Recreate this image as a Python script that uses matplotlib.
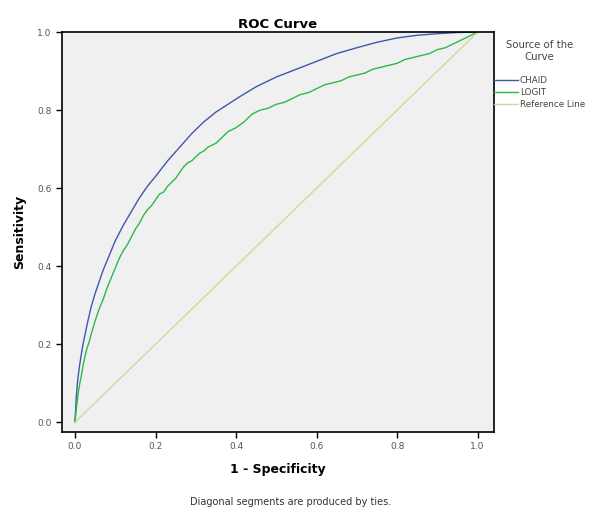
import matplotlib.pyplot as plt
import numpy as np

# ROC points (1 - specificity, sensitivity)
chaid_fpr = [0.0, 0.003, 0.006, 0.01, 0.015, 0.02, 0.03, 0.04, 0.05, 0.06, 0.07, 0.08, 0.10, 0.12,
             0.14, 0.16, 0.18, 0.20, 0.23, 0.26, 0.29, 0.32, 0.35, 0.38, 0.41, 0.45, 0.50, 0.55,
             0.60, 0.65, 0.70, 0.75, 0.80, 0.85, 0.90, 0.95, 1.0]
chaid_tpr = [0.0, 0.06, 0.10, 0.135, 0.17, 0.20, 0.25, 0.295, 0.33, 0.36, 0.39, 0.415, 0.465, 0.505,
             0.54, 0.575, 0.605, 0.63, 0.67, 0.705, 0.74, 0.77, 0.795, 0.815, 0.835, 0.86, 0.885, 0.905,
             0.925, 0.945, 0.96, 0.974, 0.985, 0.992, 0.996, 0.999, 1.0]

logit_fpr = [0.0, 0.004, 0.008, 0.012, 0.016, 0.02, 0.025, 0.03, 0.035, 0.04, 0.05, 0.06, 0.07, 0.08,
             0.09, 0.10, 0.11, 0.12, 0.13, 0.14, 0.15, 0.16, 0.17, 0.18, 0.19, 0.20, 0.21, 0.22,
             0.23, 0.24, 0.25, 0.26, 0.27, 0.28, 0.29, 0.30, 0.31, 0.32, 0.33, 0.34, 0.35, 0.36,
             0.37, 0.38, 0.39, 0.40, 0.42, 0.44, 0.46, 0.48, 0.50, 0.52, 0.54, 0.56, 0.58, 0.60,
             0.62, 0.64, 0.66, 0.68, 0.70, 0.72, 0.74, 0.76, 0.78, 0.80, 0.82, 0.84, 0.86, 0.88,
             0.90, 0.92, 0.94, 0.96, 0.98, 1.0]
logit_tpr = [0.0, 0.04, 0.075, 0.10, 0.12, 0.145, 0.17, 0.19, 0.205, 0.225, 0.26, 0.29, 0.315, 0.345,
             0.37, 0.395, 0.42, 0.44, 0.455, 0.475, 0.495, 0.51, 0.53, 0.545, 0.555, 0.57, 0.585, 0.59,
             0.605, 0.615, 0.625, 0.64, 0.655, 0.665, 0.67, 0.68, 0.69, 0.695, 0.705, 0.71, 0.715, 0.725,
             0.735, 0.745, 0.75, 0.755, 0.77, 0.79, 0.80, 0.805, 0.815, 0.82, 0.83, 0.84, 0.845, 0.855,
             0.865, 0.87, 0.875, 0.885, 0.89, 0.895, 0.905, 0.91, 0.915, 0.92, 0.93, 0.935, 0.94, 0.945,
             0.955, 0.96, 0.97, 0.98, 0.99, 1.0]

series_names = ["CHAID", "LOGIT", "Reference Line"]

fig = plt.figure(figsize=(5.97, 5.18), dpi=100)
ax = fig.add_axes([0.104, 0.166, 0.723, 0.772])
ax.set_facecolor('#f0f0f0')

ax.plot(chaid_fpr, chaid_tpr, color='#3e58ac', lw=1.0, label=series_names[0])
ax.plot(logit_fpr, logit_tpr, color='#2eb848', lw=1.0, label=series_names[1])
ax.plot([0, 1], [0, 1], color='#d8d49a', lw=1.0, label=series_names[2])

ax.set_xlim(-0.032, 1.04)
ax.set_ylim(-0.025, 1.0)
ticks = np.arange(0, 1.01, 0.2)
ax.set_xticks(ticks)
ax.set_yticks(ticks)
ax.set_xticklabels(['%.1f' % t for t in ticks])
ax.set_yticklabels(['%.1f' % t for t in ticks])
ax.tick_params(direction='out', length=4, width=1, labelsize=6.5, labelcolor='#555555')
for s in ax.spines.values():
    s.set_linewidth(1.2)

ax.set_title("ROC Curve", fontsize=9.5, fontweight='bold', pad=3)
ax.set_xlabel("1 - Specificity", fontsize=9, fontweight='bold', labelpad=8)
ax.set_ylabel("Sensitivity", fontsize=9, fontweight='bold', labelpad=8)

leg = ax.legend(loc='upper left', bbox_to_anchor=(1.0, 0.98), frameon=False, fontsize=6.3,
                title="Source of the\nCurve", handlelength=2.8, handletextpad=0.2,
                labelspacing=0.35, borderaxespad=0, borderpad=0)
leg.get_title().set_fontsize(7.3)
leg.get_title().set_multialignment('center')
leg.get_title().set_color('#444444')
leg._legend_box.sep = 10
for t in leg.get_texts():
    t.set_color('#444444')

fig.text(0.487, 0.026, "Diagonal segments are produced by ties.", fontsize=7, ha='center', color='#333333')

fig.savefig('out.png', dpi=100)
